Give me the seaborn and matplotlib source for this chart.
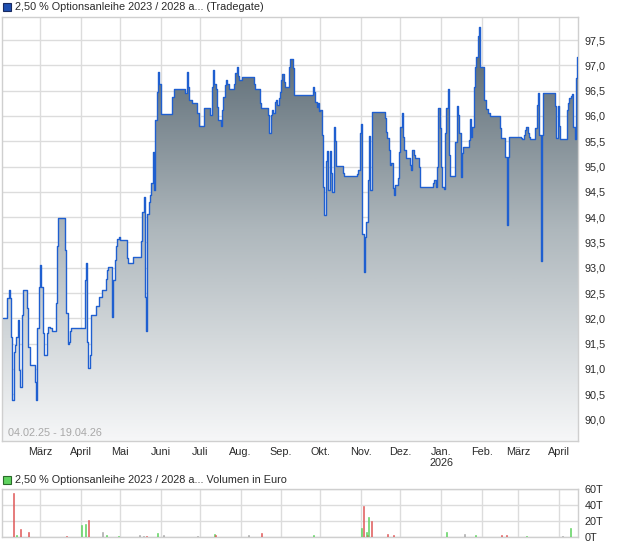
import matplotlib
matplotlib.use("Agg")
import numpy as np
import pandas as pd
import matplotlib.pyplot as plt
import matplotlib.dates as mdates
from matplotlib.patches import Rectangle
from matplotlib.colors import LinearSegmentedColormap
from matplotlib.ticker import FuncFormatter
import seaborn as sns

# ---------------- data ----------------
START = pd.Timestamp("2025-02-04")

# price change points: day offset from START and price (step series)
price_day = [-3, 0, 1, 2, 3, 4, 5, 6, 7, 8, 9, 10, 11, 12, 15, 16, 17, 21, 22, 23,
             24, 25, 26, 27, 28, 30, 31, 33, 34, 37, 38, 39, 44, 45, 46, 47, 48, 49, 59, 60,
             61, 62, 63, 64, 68, 70, 72, 75, 76, 77, 80, 81, 82, 83, 84, 85, 86, 91, 92, 96,
             102, 103, 104, 105, 106, 107, 108, 109, 110, 111, 112, 113, 114, 115, 116, 117, 126, 127, 136, 137,
             138, 139, 141, 145, 146, 150, 155, 156, 157, 158, 159, 160, 161, 163, 164, 165, 166, 167, 168, 169,
             173, 174, 175, 176, 177, 179, 188, 189, 193, 194, 199, 200, 201, 202, 203, 204, 205, 206, 207, 208,
             209, 210, 211, 212, 215, 216, 218, 219, 233, 234, 235, 236, 237, 238, 239, 240, 241, 242, 243, 244,
             245, 246, 247, 248, 249, 250, 251, 256, 257, 267, 268, 269, 270, 271, 272, 273, 274, 275, 276, 277,
             278, 288, 289, 290, 291, 292, 293, 294, 295, 296, 298, 299, 300, 301, 302, 303, 304, 307, 308, 309,
             310, 311, 314, 315, 325, 326, 327, 328, 329, 330, 331, 332, 333, 334, 335, 336, 337, 338, 342, 343,
             344, 345, 346, 347, 348, 352, 353, 354, 355, 356, 357, 358, 359, 360, 361, 364, 365, 367, 368, 376,
             377, 380, 381, 382, 383, 392, 393, 394, 395, 396, 397, 398, 399, 403, 404, 405, 406, 407, 408, 409,
             418, 419, 420, 421, 422, 427, 428, 429, 430, 431, 432, 433, 434, 435]
price_value = [92.00, 92.40, 92.56, 92.41, 91.64, 90.39, 91.34, 91.47, 91.64, 91.97, 90.98, 90.65, 92.07, 92.56, 92.20, 91.44, 91.08, 90.75, 90.39, 91.81,
               92.62, 93.05, 92.62, 91.70, 91.27, 91.70, 91.83, 91.80, 91.75, 92.30, 93.42, 93.98, 93.35, 92.10, 91.49, 91.54, 91.74, 91.81, 92.76, 93.09,
               91.54, 91.01, 91.27, 92.07, 92.24, 92.43, 92.56, 92.77, 92.95, 93.02, 92.03, 92.76, 93.15, 93.42, 93.56, 93.61, 93.55, 93.19, 93.09, 93.22,
               93.52, 94.11, 94.40, 92.43, 91.74, 94.07, 94.30, 94.44, 94.67, 95.29, 94.54, 95.92, 96.48, 96.87, 96.64, 96.04, 96.38, 96.53, 96.45, 96.87,
               96.58, 96.31, 96.26, 96.05, 95.80, 96.15, 96.02, 96.58, 96.91, 96.64, 96.53, 96.18, 95.92, 95.80, 96.12, 96.38, 96.61, 96.71, 96.64, 96.53,
               96.64, 96.84, 96.96, 96.78, 96.71, 96.76, 96.64, 96.53, 96.25, 96.15, 96.02, 95.67, 96.02, 96.12, 96.05, 96.28, 96.32, 96.22, 96.35, 96.48,
               96.71, 96.82, 96.68, 96.58, 96.97, 97.12, 96.94, 96.41, 96.58, 96.48, 96.28, 96.18, 96.25, 96.10, 96.12, 95.62, 94.60, 94.04, 95.10, 95.30,
               94.54, 95.30, 94.87, 94.50, 95.79, 95.50, 95.01, 94.87, 94.81, 94.86, 94.93, 95.66, 95.85, 93.67, 92.92, 93.61, 93.91, 94.74, 95.60, 94.54,
               96.08, 95.95, 95.69, 95.56, 95.33, 95.03, 95.07, 94.57, 94.44, 94.64, 94.77, 95.29, 95.79, 96.05, 95.59, 95.33, 95.16, 95.03, 94.93, 95.33,
               95.23, 95.16, 94.99, 94.60, 94.67, 94.74, 94.60, 95.00, 96.15, 95.76, 95.00, 94.60, 94.55, 95.66, 96.15, 96.53, 95.23, 94.81, 95.49, 96.20,
               96.02, 95.66, 94.80, 95.26, 95.39, 95.52, 95.93, 95.59, 95.79, 96.58, 96.97, 97.16, 97.57, 97.75, 96.97, 96.31, 96.13, 96.05, 96.00, 95.76,
               95.56, 95.18, 93.85, 95.18, 95.59, 95.56, 95.55, 95.63, 95.72, 95.78, 95.66, 95.59, 95.54, 95.76, 96.22, 96.45, 95.62, 93.13, 95.62, 96.45,
               96.20, 95.56, 96.20, 95.80, 95.54, 96.12, 96.25, 96.35, 96.40, 96.43, 95.79, 95.54, 96.74, 97.17]

# volume (in thousand euro) per day offset, with direction colour
volume_day = [5, 7, 10, 16, 45, 57, 60, 62, 73, 76, 85, 101, 104, 106, 115, 119, 145, 158, 159, 184,
              194, 234, 270, 272, 274, 275, 276, 278, 290, 295, 335, 349, 357, 377, 381, 396, 424, 430]
volume_tsd = [54.5, 2, 9.4, 6, 1, 15, 16.6, 21, 6, 2, 1, 2, 1, 1, 5, 2, 1, 4, 2.5, 2,
              5.5, 2, 11.5, 39, 6, 2, 25.5, 20.4, 4, 2, 6.4, 3.4, 2, 2, 2, 1, 1, 11]
volume_dir = ["down", "up", "down", "down", "down", "up", "up", "down", "flat", "up", "up", "flat", "flat", "down", "up", "flat", "flat", "up", "down", "flat",
              "down", "up", "up", "down", "up", "down", "up", "down", "down", "down", "up", "flat", "up", "down", "down", "up", "flat", "up"]

month_ticks = ["2025-03-01", "2025-04-01", "2025-05-01", "2025-06-01", "2025-07-01", "2025-08-01", "2025-09-01",
               "2025-10-01", "2025-11-01", "2025-12-01", "2026-01-01", "2026-02-01", "2026-03-01", "2026-04-01"]
month_labels = ["März", "April", "Mai", "Juni", "Juli", "Aug.", "Sep.", "Okt.", "Nov.", "Dez.",
                "Jan.\n2026", "Feb.", "März", "April"]
price_ticks = [90.0, 90.5, 91.0, 91.5, 92.0, 92.5, 93.0, 93.5, 94.0, 94.5, 95.0, 95.5, 96.0, 96.5, 97.0, 97.5]
volume_ticks = [0, 20, 40, 60]
volume_tick_labels = ["0T", "20T", "40T", "60T"]

price_title = "2,50 % Optionsanleihe 2023 / 2028 a... (Tradegate)"
volume_title = "2,50 % Optionsanleihe 2023 / 2028 a... Volumen in Euro"
range_label = "04.02.25 - 19.04.26"

# ---------------- style ----------------
sns.set_theme(style="white")
plt.rcParams["font.family"] = ["Liberation Sans", "DejaVu Sans"]
FS = 7.8
TXT = "#2a2a2a"
GRID = "#dcdcdc"
SPINE = "#cfcfcf"
LINE = "#1f5fd0"
VCOL = {"up": "#5fd35f", "down": "#e05a5a", "flat": "#a8a8a8"}

W, H = 620, 546
fig = plt.figure(figsize=(W / 100, H / 100), dpi=100)
fig.patch.set_facecolor("white")
ax = fig.add_axes([2 / W, (H - 441) / H, 576 / W, 424 / H])
axv = fig.add_axes([2 / W, (H - 537) / H, 576 / W, 48 / H])

x_left = START + pd.Timedelta(days=-4)
x_right = START + pd.Timedelta(days=435.5)
y_low, y_high = 89.575, 97.955

price = pd.DataFrame({"date": START + pd.to_timedelta(price_day, unit="D"), "price": price_value})
draw = pd.concat([price, pd.DataFrame({"date": [x_right], "price": [price_value[-1]]})], ignore_index=True)

# gradient area under the step line
poly = ax.fill_between(draw["date"], draw["price"], y_low, step="post", facecolor="none", edgecolor="none")
clip = poly.get_paths()[0]
cmap = LinearSegmentedColormap.from_list("g", ["#f6f7f8", "#aeb7bc", "#4e5e69"])
grad = np.linspace(0, 1, 256).reshape(-1, 1)
im = ax.imshow(grad, extent=[mdates.date2num(x_left), mdates.date2num(x_right), y_low, y_high],
               origin="lower", aspect="auto", cmap=cmap, zorder=1, interpolation="bilinear")
im.set_clip_path(clip, transform=ax.transData)

sns.lineplot(data=draw, x="date", y="price", drawstyle="steps-post", color=LINE, lw=1.0, ax=ax, zorder=3)

ax.set_xlim(x_left, x_right)
ax.set_ylim(y_low, y_high)
ax.set_xlabel("")
ax.set_ylabel("")
ax.set_axisbelow(True)
ax.grid(True, color=GRID, lw=1)
ax.yaxis.tick_right()
ax.set_yticks(price_ticks)
ax.yaxis.set_major_formatter(FuncFormatter(lambda v, p: f"{v:.1f}".replace(".", ",")))
ax.set_xticks(pd.to_datetime(month_ticks))
ax.set_xticklabels(month_labels)
ax.tick_params(axis="both", length=0, labelsize=FS, labelcolor=TXT)
ax.tick_params(axis="y", pad=5)
ax.tick_params(axis="x", pad=4)
for s in ax.spines.values():
    s.set_color(SPINE)
    s.set_linewidth(1)
ax.text(6 / 576, 3 / 424, range_label, transform=ax.transAxes, color="#a8a8a8",
        fontsize=FS, va="bottom", ha="left", zorder=5)

# volume panel
vol = pd.DataFrame({"date": START + pd.to_timedelta(volume_day, unit="D"), "vol": volume_tsd, "dir": volume_dir})
vcolors = [VCOL[d] for d in vol["dir"]]
axv.bar(vol["date"], vol["vol"], width=0.8, color=vcolors, edgecolor=vcolors, linewidth=0.4, zorder=3)
axv.set_xlim(x_left, x_right)
axv.set_ylim(0, 60)
axv.set_axisbelow(True)
axv.grid(True, color=GRID, lw=1)
axv.yaxis.tick_right()
axv.set_yticks(volume_ticks)
axv.set_yticklabels(volume_tick_labels)
axv.set_xticks(pd.to_datetime(month_ticks))
axv.set_xticklabels([])
axv.tick_params(axis="both", length=0, labelsize=FS, labelcolor=TXT)
axv.tick_params(axis="y", pad=5)
for s in axv.spines.values():
    s.set_color(SPINE)
    s.set_linewidth(1)

# legends (square + text)
fig.add_artist(Rectangle((3 / W, (H - 11) / H), 8 / W, 8 / H, transform=fig.transFigure,
                         facecolor="#1f4fb0", edgecolor="#1a2a60", lw=0.8))
fig.text(15 / W, (H - 7) / H, price_title, fontsize=FS, color=TXT, va="center", ha="left")
fig.add_artist(Rectangle((3 / W, (H - 484) / H), 8 / W, 8 / H, transform=fig.transFigure,
                         facecolor="#5fd35f", edgecolor="#2a6a2a", lw=0.8))
fig.text(15 / W, (H - 480) / H, volume_title, fontsize=FS, color=TXT, va="center", ha="left")

fig.savefig("out.png", dpi=100)
